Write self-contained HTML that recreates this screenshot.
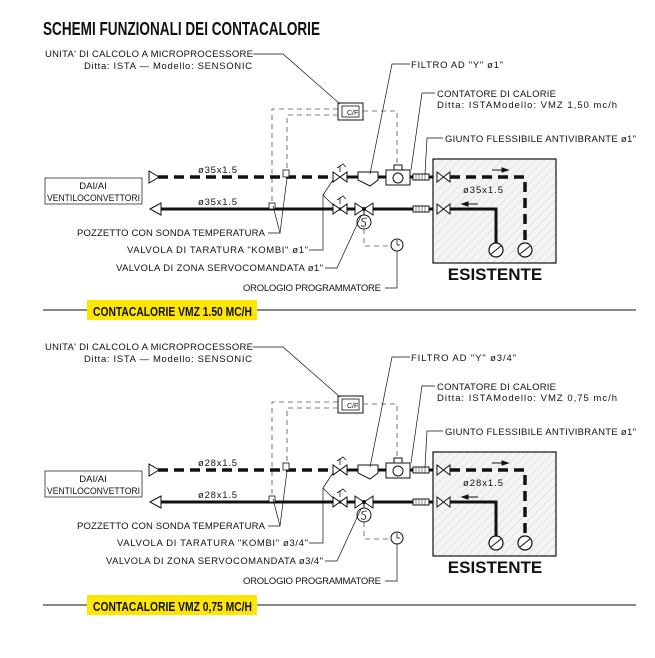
<!DOCTYPE html>
<html><head><meta charset="utf-8"><style>
html,body{margin:0;padding:0;background:#fff;}
svg{display:block;}
text{font-family:"Liberation Sans",sans-serif;fill:#111;}
.s{font-size:9.5px;}
.b{font-weight:bold;}
</style></head><body>
<svg width="655" height="658" viewBox="0 0 655 658" xmlns="http://www.w3.org/2000/svg">
<defs>
<pattern id="h" width="6" height="6" patternUnits="userSpaceOnUse" patternTransform="rotate(45)">
<rect width="6" height="6" fill="#f4f4f4"/><line x1="0" y1="0" x2="0" y2="6" stroke="#ccc" stroke-width="0.8"/>
</pattern>
<g id="d" fill="none" stroke="#111">
<polyline points="253,54 283,54 340,104" stroke-width="0.7"/>
<rect x="338" y="103" width="25" height="17" stroke-width="1"/>
<rect x="342" y="106" width="17" height="11" stroke-width="0.8"/>
<g stroke-dasharray="5,4" stroke-width="0.8" stroke="#555">
<polyline points="338,109 272,109 272,205"/>
<polyline points="338,115 287,115 287,172"/>
<polyline points="363,111 397,111 397,168"/>
<polyline points="364,229 364,246 391,246"/>
</g>
<line x1="158" y1="177" x2="333" y2="177" stroke-width="3.5" stroke-dasharray="10,6"/>
<polygon points="149,171 149,183 159,177" stroke-width="1" fill="#fff"/>
<line x1="347" y1="177" x2="433" y2="177" stroke-width="3"/>
<line x1="160" y1="209" x2="433" y2="209" stroke-width="3"/>
<polygon points="150,209 161,203 161,215" stroke-width="1" fill="#fff"/>
<rect x="45" y="178" width="97" height="26" stroke-width="0.7"/>
<rect x="283" y="170" width="6" height="7" fill="#fff" stroke-width="0.8"/>
<rect x="269" y="203" width="6" height="6" fill="#fff" stroke-width="0.8"/>
<g fill="#fff" stroke-width="1">
<polygon points="333,172 333,182 347,172 347,182"/>
<polygon points="333,204 333,214 347,204 347,214"/>
<polygon points="355,203 355,215 373,203 373,215"/>
<path d="M358,172 L378,172 L378,180 L370,186 L358,180 Z"/>
<rect x="386" y="170" width="24" height="15"/>
<rect x="394" y="165" width="8" height="5"/>
<circle cx="398" cy="178" r="5"/>
<rect x="413" y="174" width="16" height="6"/>
<rect x="413" y="206" width="16" height="6"/>
<circle cx="364" cy="222" r="7"/>
<circle cx="397" cy="245" r="6"/>
</g>
<path d="M340,172 L340,166 M337,168 L343,164 L346,167" stroke-width="0.8"/>
<path d="M340,204 L340,198 M337,200 L343,196 L346,199" stroke-width="0.8"/>
<line x1="364" y1="209" x2="364" y2="215" stroke-width="1"/>
<circle cx="364" cy="209" r="1.5" fill="#111"/>
<path d="M367,218 Q361,218 362,221 Q367,222 365,226 Q362,227 361,225" stroke-width="0.8"/>
<line x1="397" y1="245" x2="397" y2="240" stroke-width="0.8"/><line x1="397" y1="245" x2="400" y2="245" stroke-width="0.8"/>
<g stroke-width="0.6" stroke="#333">
<line x1="416" y1="174" x2="416" y2="180"/><line x1="419" y1="174" x2="419" y2="180"/><line x1="422" y1="174" x2="422" y2="180"/><line x1="425" y1="174" x2="425" y2="180"/>
<line x1="416" y1="206" x2="416" y2="212"/><line x1="419" y1="206" x2="419" y2="212"/><line x1="422" y1="206" x2="422" y2="212"/><line x1="425" y1="206" x2="425" y2="212"/>
</g>
<g stroke-width="0.7">
<polyline points="410,64 392,64 370,174"/>
<polyline points="435,93 422,93 411,170"/>
<polyline points="443,138 427,138 425,174"/>
<polyline points="268,233 280,233 273,206"/>
<polyline points="280,233 287,178"/>
<polyline points="309,250 323,250 323,195 333,180"/>
<polyline points="323,195 333,205"/>
<polyline points="325,268 337,268 361,216"/>
<polyline points="385,288 397,288 397,251"/>
</g>
<rect x="433" y="159" width="123" height="104" fill="url(#h)" stroke-width="1.2"/>
<g fill="#fff" stroke-width="1">
<polygon points="437,172 437,182 450,172 450,182"/>
<polygon points="437,204 437,214 450,204 450,214"/>
</g>
<polyline points="450,177 525,177 525,243" stroke-width="3.5" stroke-dasharray="10,6"/>
<polyline points="450,209 496,209 496,243" stroke-width="3"/>
<circle cx="496" cy="250" r="7" fill="#fff" stroke-width="1.2"/>
<circle cx="525" cy="250" r="7" fill="#fff" stroke-width="1.2"/>
<line x1="491" y1="254" x2="501" y2="246" stroke-width="1"/>
<line x1="520" y1="254" x2="530" y2="246" stroke-width="1"/>
<line x1="492" y1="170" x2="508" y2="170" stroke-width="1"/>
<polygon points="508,170 502,168 502,172" fill="#111"/>
<line x1="462" y1="204" x2="478" y2="204" stroke-width="1"/>
<polygon points="462,204 468,202 468,206" fill="#111"/>
</g>
</defs>

<text x="43" y="35" class="b" font-size="18" textLength="277" lengthAdjust="spacingAndGlyphs">SCHEMI FUNZIONALI DEI CONTACALORIE</text>

<use href="#d"/>
<g class="s">
<text x="45" y="57" textLength="208">UNITA' DI CALCOLO A MICROPROCESSORE</text>
<text x="84" y="69" textLength="168">Ditta: ISTA — Modello: SENSONIC</text>
<text x="411" y="68" textLength="92">FILTRO AD "Y" ø1"</text>
<text x="437" y="97" textLength="119">CONTATORE DI CALORIE</text>
<text x="437" y="108" textLength="180">Ditta: ISTAModello: VMZ 1,50 mc/h</text>
<text x="445" y="142" textLength="191">GIUNTO FLESSIBILE ANTIVIBRANTE ø1"</text>
<text x="198" y="173" textLength="39">ø35x1.5</text>
<text x="198" y="205" textLength="39">ø35x1.5</text>
<text x="463" y="193" textLength="40">ø35x1.5</text>
<text x="347" y="115" font-size="7">C/F</text>
<text x="93" y="189" text-anchor="middle">DAI/AI</text>
<text x="47" y="201" textLength="93" lengthAdjust="spacingAndGlyphs">VENTILOCONVETTORI</text>
<text x="77" y="236" textLength="188">POZZETTO CON SONDA TEMPERATURA</text>
<text x="127" y="253" textLength="181">VALVOLA DI TARATURA "KOMBI" ø1"</text>
<text x="116" y="271" textLength="207">VALVOLA DI ZONA SERVOCOMANDATA ø1"</text>
<text x="243" y="291" textLength="138">OROLOGIO PROGRAMMATORE</text>
</g>
<text x="495" y="280" text-anchor="middle" class="b" font-size="17">ESISTENTE</text>
<line x1="43" y1="310" x2="636" y2="310" stroke="#111" stroke-width="1"/>
<rect x="87" y="300" width="170" height="20" fill="#ffe600"/>
<text x="93" y="316" class="b" font-size="13" textLength="159" lengthAdjust="spacingAndGlyphs">CONTACALORIE VMZ 1.50 MC/H</text>

<use href="#d" transform="translate(0,293)"/>
<g class="s" transform="translate(0,293)">
<text x="45" y="57" textLength="208">UNITA' DI CALCOLO A MICROPROCESSORE</text>
<text x="84" y="69" textLength="168">Ditta: ISTA — Modello: SENSONIC</text>
<text x="411" y="68" textLength="105">FILTRO AD "Y" ø3/4"</text>
<text x="437" y="97" textLength="119">CONTATORE DI CALORIE</text>
<text x="437" y="108" textLength="180">Ditta: ISTAModello: VMZ 0,75 mc/h</text>
<text x="445" y="142" textLength="191">GIUNTO FLESSIBILE ANTIVIBRANTE ø1"</text>
<text x="198" y="173" textLength="39">ø28x1.5</text>
<text x="198" y="205" textLength="39">ø28x1.5</text>
<text x="463" y="193" textLength="40">ø28x1.5</text>
<text x="347" y="115" font-size="7">C/F</text>
<text x="93" y="189" text-anchor="middle">DAI/AI</text>
<text x="47" y="201" textLength="93" lengthAdjust="spacingAndGlyphs">VENTILOCONVETTORI</text>
<text x="77" y="236" textLength="188">POZZETTO CON SONDA TEMPERATURA</text>
<text x="117" y="253" textLength="191">VALVOLA DI TARATURA "KOMBI" ø3/4"</text>
<text x="106" y="271" textLength="217">VALVOLA DI ZONA SERVOCOMANDATA ø3/4"</text>
<text x="243" y="291" textLength="138">OROLOGIO PROGRAMMATORE</text>
</g>
<text x="495" y="573" text-anchor="middle" class="b" font-size="17">ESISTENTE</text>
<line x1="43" y1="605" x2="636" y2="605" stroke="#111" stroke-width="1"/>
<rect x="87" y="595" width="170" height="20" fill="#ffe600"/>
<text x="93" y="611" class="b" font-size="13" textLength="159" lengthAdjust="spacingAndGlyphs">CONTACALORIE VMZ 0,75 MC/H</text>
</svg>
</body></html>
